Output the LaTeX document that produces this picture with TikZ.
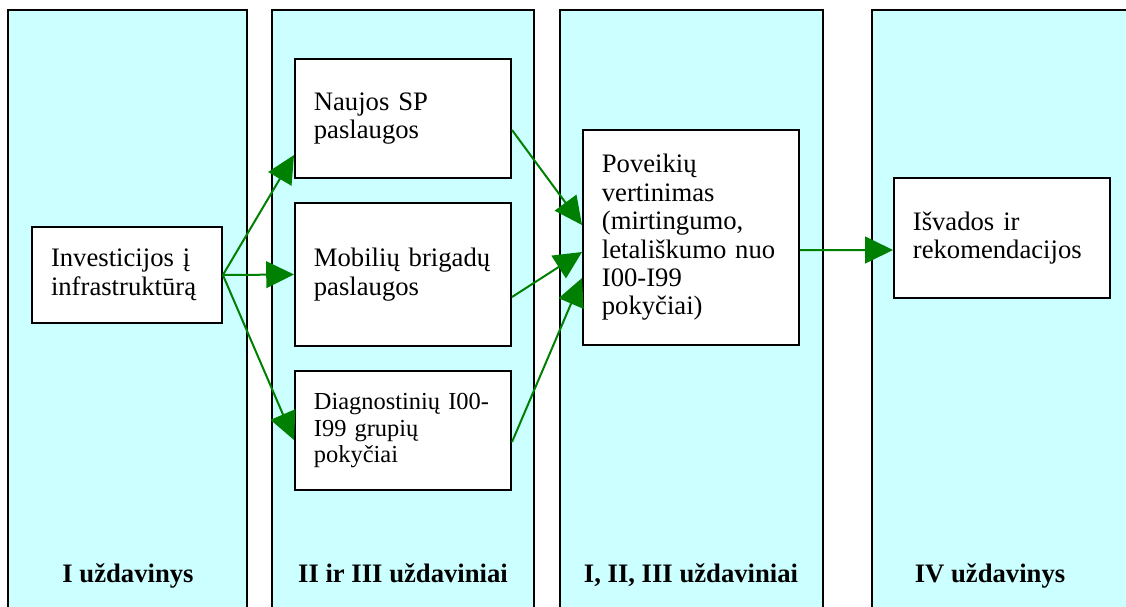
\documentclass[tikz,border=0pt]{standalone}
\usepackage{fontspec}
\setmainfont{Liberation Serif}
\usetikzlibrary{arrows.meta,calc}
\definecolor{lanecyan}{RGB}{204,255,255}
\definecolor{flowgreen}{RGB}{0,128,0}
\newcommand{\boxfont}{\fontsize{12}{12.8}\selectfont}
\tikzset{
  lane/.style={draw=black,line width=0.9pt,fill=lanecyan},
  lane label/.style={font=\boxfont\bfseries,anchor=base},
  task/.style={draw=black,line width=0.9pt,fill=white,align=left,inner xsep=8.5pt,inner ysep=0pt,text width=80.2pt},
  flow/.style={flowgreen,line width=0.9pt,-{Triangle[length=12.5pt,width=12pt]}}
}

\begin{document}
\begin{tikzpicture}[x=0.45pt,y=-0.45pt,font=\boxfont]
\clip (0,0) rectangle (1126,606);
% lanes, open at the bottom
\draw[lane] (8,10) rectangle (247,640);
\draw[lane] (272,10) rectangle (534,640);
\draw[lane] (560,10) rectangle (823,640);
\draw[lane] (872,10) rectangle (1140,640);
\node[lane label] (task1) at (128,582) {I uždavinys};
\node[lane label] (task23) at (403,582) {II ir III uždaviniai};
\node[lane label] (task123) at (691,582) {I, II, III uždaviniai};
\node[lane label] (task4) at (990,582) {IV uždavinys};

% boxes
\node[task,text width=68.4pt,minimum height=43.2pt] (inv) at (127,275)
  {Investicijos į\\infrastruktūrą};
\node[task,minimum height=53.55pt] (naujos) at (403,118.5)
  {Naujos SP\\paslaugos};
\node[task,minimum height=64.35pt] (mobil) at (403,274.5)
  {Mobilių brigadų\\paslaugos};
\node[task,minimum height=53.55pt,font=\fontsize{11}{12}\selectfont] (diag) at (403,430.5)
  {Diagnostinių I00-\\I99 grupių\\pokyčiai};
\node[task,minimum height=96.75pt] (pov) at (691,237.5)
  {Poveikių\\vertinimas\\(mirtingumo,\\letališkumo nuo\\I00-I99\\pokyčiai)};
\node[task,minimum height=54pt] (isv) at (1002,238)
  {Išvados ir\\rekomendacijos};

% arrows
\draw[flow] (inv.east) -- ($(naujos.west)+(0,36.5)$);
\draw[flow] (inv.east) -- (mobil.west);
\draw[flow] (inv.east) -- ($(diag.west)+(0,9.5)$);
\draw[flow] ($(naujos.east)+(0,11.5)$) -- ($(pov.west)+(0,-12.5)$);
\draw[flow] ($(mobil.east)+(0,22.5)$) -- ($(pov.west)+(0,14.5)$);
\draw[flow] ($(diag.east)+(0,11.5)$) -- ($(pov.west)+(0,40.5)$);
\draw[flow] ($(pov.east)+(0,12.5)$) -- ($(isv.west)+(0,12)$);
\end{tikzpicture}
\end{document}
